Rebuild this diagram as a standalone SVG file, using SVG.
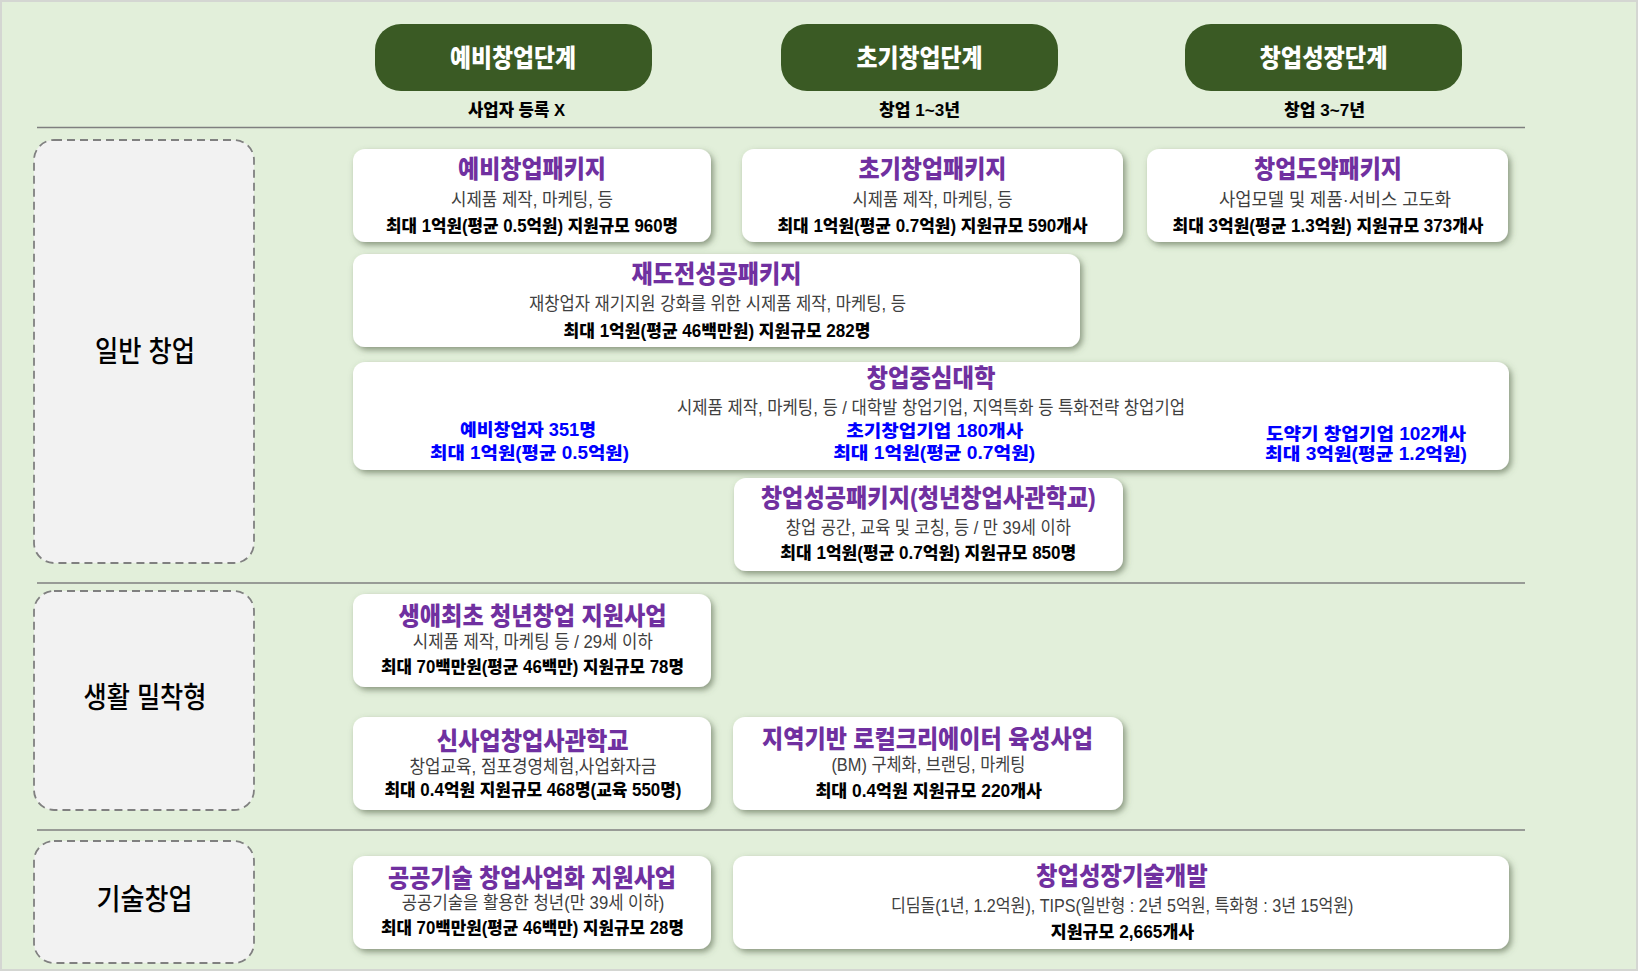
<svg xmlns="http://www.w3.org/2000/svg" width="1638" height="971" viewBox="0 0 1638 971">
<defs>
<filter id="sh" x="-10%" y="-20%" width="120%" height="150%">
<feDropShadow dx="2.5" dy="3" stdDeviation="3" flood-color="#4d5c40" flood-opacity="0.6"/>
</filter>
<style>
text{font-family:"Liberation Sans","Noto Sans CJK KR",sans-serif;text-anchor:middle;dominant-baseline:central}
.pill{fill:#3a5a24}
.pt{fill:#ffffff;font-weight:900;font-size:25px}
.stage{fill:#000;font-weight:900;font-size:16.5px}
.sep{stroke:#7f7f7f;stroke-width:1.4;fill:none}
.cat{fill:#f2f2f2;stroke:#808080;stroke-width:1.8;stroke-dasharray:8 5}
.ct{fill:#000;font-weight:500;font-size:29px}
.card{fill:#ffffff;filter:url(#sh)}
.ti{fill:#7030a0;font-weight:900;font-size:25px}
.sub{fill:#404040;font-weight:400;font-size:18px}
.info{fill:#000;font-weight:900;font-size:17.5px}
.blue{fill:#0000ff;font-weight:900;font-size:17.5px}
</style>
</defs>
<rect x="1" y="1" width="1636" height="969" fill="#e2efda" stroke="#d4d6d2" stroke-width="2"/>

<g id="separators">
<line class="sep" x1="37" y1="127.5" x2="1525" y2="127.5"/>
<line class="sep" x1="37" y1="583" x2="1525" y2="583"/>
<line class="sep" x1="37" y1="830" x2="1525" y2="830"/>
</g>

<g id="stage1">
<rect class="pill" x="375" y="24" width="277" height="67" rx="26"/>
<text class="pt" x="513" y="57.5" textLength="126" lengthAdjust="spacingAndGlyphs">예비창업단계</text>
<text class="stage" x="516.5" y="109.5" textLength="97" lengthAdjust="spacingAndGlyphs">사업자 등록 X</text>
</g>
<g id="stage2">
<rect class="pill" x="781" y="24" width="277" height="67" rx="26"/>
<text class="pt" x="919.6" y="57.5" textLength="126" lengthAdjust="spacingAndGlyphs">초기창업단계</text>
<text class="stage" x="919.5" y="109.5" textLength="81" lengthAdjust="spacingAndGlyphs">창업 1~3년</text>
</g>
<g id="stage3">
<rect class="pill" x="1185" y="24" width="277" height="67" rx="26"/>
<text class="pt" x="1323.5" y="57.5" textLength="128" lengthAdjust="spacingAndGlyphs">창업성장단계</text>
<text class="stage" x="1324.5" y="109.5" textLength="81" lengthAdjust="spacingAndGlyphs">창업 3~7년</text>
</g>

<g id="cat-general">
<rect class="cat" x="34" y="140" width="220" height="423" rx="20"/>
<text class="ct" x="145" y="351.5" textLength="100" lengthAdjust="spacingAndGlyphs">일반 창업</text>
</g>
<g id="cat-local">
<rect class="cat" x="34" y="591" width="220" height="219" rx="20"/>
<text class="ct" x="145" y="698" textLength="123" lengthAdjust="spacingAndGlyphs">생활 밀착형</text>
</g>
<g id="cat-tech">
<rect class="cat" x="34" y="841" width="220" height="122" rx="20"/>
<text class="ct" x="144.6" y="900" textLength="96" lengthAdjust="spacingAndGlyphs">기술창업</text>
</g>

<g id="card-prestartup">
<rect class="card" x="353" y="149" width="358" height="93" rx="12"/>
<text class="ti" x="532" y="169" textLength="148" lengthAdjust="spacingAndGlyphs">예비창업패키지</text>
<text class="sub" x="532" y="200" textLength="162" lengthAdjust="spacingAndGlyphs">시제품 제작, 마케팅, 등</text>
<text class="info" x="532" y="225.5" textLength="292" lengthAdjust="spacingAndGlyphs">최대 1억원(평균 0.5억원) 지원규모 960명</text>
</g>
<g id="card-early">
<rect class="card" x="742" y="149" width="381" height="93" rx="12"/>
<text class="ti" x="932.5" y="169" textLength="148" lengthAdjust="spacingAndGlyphs">초기창업패키지</text>
<text class="sub" x="932.5" y="200" textLength="160" lengthAdjust="spacingAndGlyphs">시제품 제작, 마케팅, 등</text>
<text class="info" x="932.5" y="225.5" textLength="310" lengthAdjust="spacingAndGlyphs">최대 1억원(평균 0.7억원) 지원규모 590개사</text>
</g>
<g id="card-leap">
<rect class="card" x="1147" y="149" width="361" height="93" rx="12"/>
<text class="ti" x="1328" y="169" textLength="148" lengthAdjust="spacingAndGlyphs">창업도약패키지</text>
<text class="sub" x="1335" y="200" textLength="232" lengthAdjust="spacingAndGlyphs">사업모델 및 제품·서비스 고도화</text>
<text class="info" x="1328" y="225.5" textLength="311" lengthAdjust="spacingAndGlyphs">최대 3억원(평균 1.3억원) 지원규모 373개사</text>
</g>
<g id="card-rechallenge">
<rect class="card" x="353" y="254" width="727" height="93" rx="12"/>
<text class="ti" x="716.5" y="274" textLength="170" lengthAdjust="spacingAndGlyphs">재도전성공패키지</text>
<text class="sub" x="717.5" y="303.5" textLength="377" lengthAdjust="spacingAndGlyphs">재창업자 재기지원 강화를 위한 시제품 제작, 마케팅, 등</text>
<text class="info" x="717" y="330.5" textLength="307" lengthAdjust="spacingAndGlyphs">최대 1억원(평균 46백만원)  지원규모 282명</text>
</g>
<g id="card-university">
<rect class="card" x="353" y="362" width="1156" height="108" rx="12"/>
<text class="ti" x="931" y="377.5" textLength="129" lengthAdjust="spacingAndGlyphs">창업중심대학</text>
<text class="sub" x="931" y="408.3" textLength="508" lengthAdjust="spacingAndGlyphs">시제품 제작, 마케팅, 등 / 대학발 창업기업, 지역특화 등 특화전략 창업기업</text>
<text class="blue" x="528" y="430" textLength="136" lengthAdjust="spacingAndGlyphs">예비창업자 351명</text>
<text class="blue" x="529.5" y="452.5" textLength="199" lengthAdjust="spacingAndGlyphs">최대 1억원(평균 0.5억원)</text>
<text class="blue" x="934.7" y="431" textLength="177" lengthAdjust="spacingAndGlyphs">초기창업기업 180개사</text>
<text class="blue" x="934.2" y="453" textLength="202" lengthAdjust="spacingAndGlyphs">최대 1억원(평균 0.7억원)</text>
<text class="blue" x="1366" y="433.5" textLength="200" lengthAdjust="spacingAndGlyphs">도약기 창업기업 102개사</text>
<text class="blue" x="1366" y="454" textLength="202" lengthAdjust="spacingAndGlyphs">최대 3억원(평균 1.2억원)</text>
</g>
<g id="card-success">
<rect class="card" x="734" y="478" width="389" height="93" rx="12"/>
<text class="ti" x="928.3" y="497.5" textLength="335" lengthAdjust="spacingAndGlyphs">창업성공패키지(청년창업사관학교)</text>
<text class="sub" x="928.3" y="528.3" textLength="285" lengthAdjust="spacingAndGlyphs">창업 공간, 교육 및 코칭, 등 / 만 39세 이하</text>
<text class="info" x="928.3" y="553.3" textLength="296" lengthAdjust="spacingAndGlyphs">최대 1억원(평균 0.7억원)  지원규모 850명</text>
</g>
<g id="card-firstyouth">
<rect class="card" x="353" y="594" width="358" height="93" rx="12"/>
<text class="ti" x="532.6" y="616" textLength="268" lengthAdjust="spacingAndGlyphs">생애최초 청년창업 지원사업</text>
<text class="sub" x="532.8" y="641.5" textLength="240" lengthAdjust="spacingAndGlyphs">시제품 제작, 마케팅 등 / 29세 이하</text>
<text class="info" x="532.4" y="667" textLength="303" lengthAdjust="spacingAndGlyphs">최대 70백만원(평균 46백만) 지원규모 78명</text>
</g>
<g id="card-newbiz">
<rect class="card" x="353" y="717" width="358" height="93" rx="12"/>
<text class="ti" x="532.7" y="741" textLength="192" lengthAdjust="spacingAndGlyphs">신사업창업사관학교</text>
<text class="sub" x="533" y="766.5" textLength="247" lengthAdjust="spacingAndGlyphs">창업교육, 점포경영체험,사업화자금</text>
<text class="info" x="533" y="790" textLength="297" lengthAdjust="spacingAndGlyphs">최대 0.4억원 지원규모 468명(교육 550명)</text>
</g>
<g id="card-local-creator">
<rect class="card" x="733" y="717" width="390" height="93" rx="12"/>
<text class="ti" x="927.5" y="739" textLength="331" lengthAdjust="spacingAndGlyphs">지역기반 로컬크리에이터 육성사업</text>
<text class="sub" x="928.4" y="765" textLength="194" lengthAdjust="spacingAndGlyphs">(BM) 구체화, 브랜딩, 마케팅</text>
<text class="info" x="928.7" y="791" textLength="226.6" lengthAdjust="spacingAndGlyphs">최대 0.4억원  지원규모 220개사</text>
</g>
<g id="card-publictech">
<rect class="card" x="353" y="856" width="358" height="93" rx="12"/>
<text class="ti" x="532" y="877.5" textLength="288" lengthAdjust="spacingAndGlyphs">공공기술 창업사업화 지원사업</text>
<text class="sub" x="533" y="903.3" textLength="262.5" lengthAdjust="spacingAndGlyphs">공공기술을 활용한 청년(만 39세 이하)</text>
<text class="info" x="532.4" y="928.3" textLength="303" lengthAdjust="spacingAndGlyphs">최대 70백만원(평균 46백만) 지원규모 28명</text>
</g>
<g id="card-techdev">
<rect class="card" x="733" y="856" width="776" height="93" rx="12"/>
<text class="ti" x="1121.9" y="875.5" textLength="171.6" lengthAdjust="spacingAndGlyphs">창업성장기술개발</text>
<text class="sub" x="1122.2" y="906" textLength="462.5" lengthAdjust="spacingAndGlyphs">디딤돌(1년, 1.2억원), TIPS(일반형 : 2년 5억원, 특화형 : 3년 15억원)</text>
<text class="info" x="1122.5" y="931.5" textLength="143.4" lengthAdjust="spacingAndGlyphs">지원규모 2,665개사</text>
</g>

<g id="connectors"></g>
</svg>
